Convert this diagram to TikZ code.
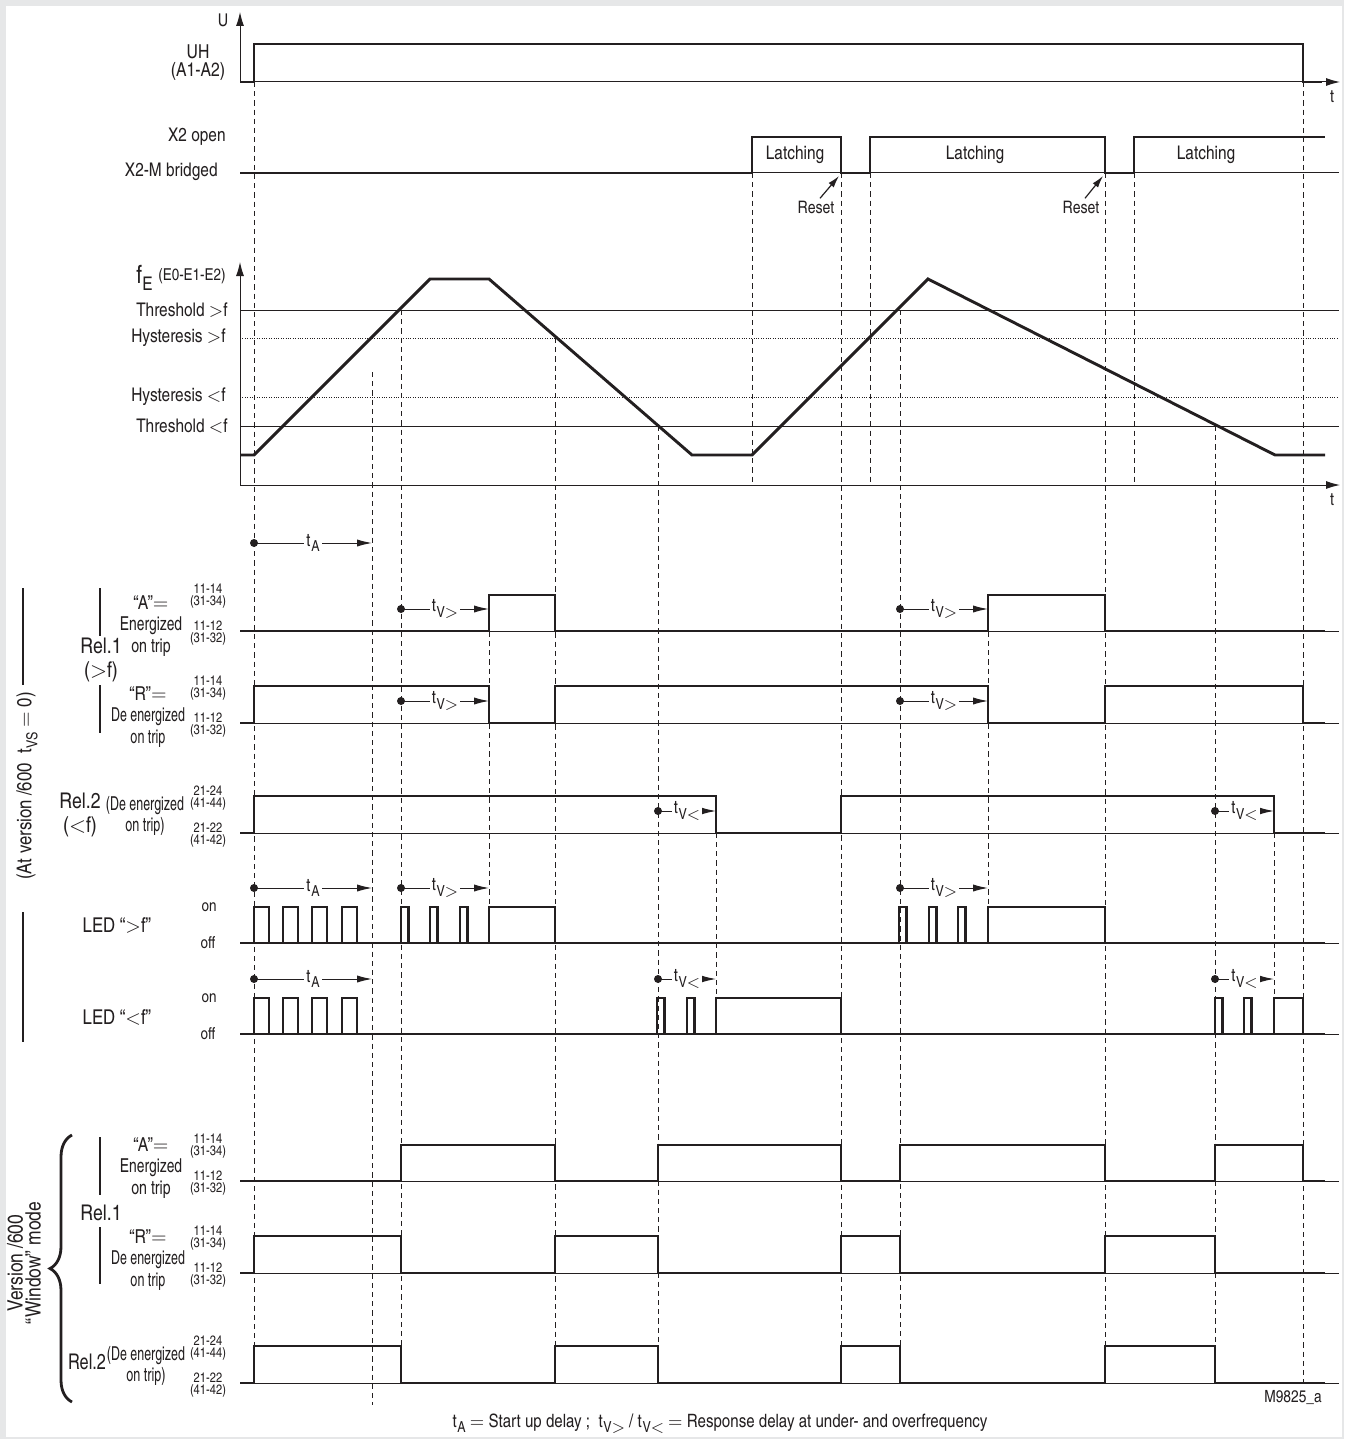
\documentclass[tikz,border=0pt]{standalone}
\usepackage{fontspec}
\setmainfont{TeX Gyre Heros Cn}
\usetikzlibrary{arrows.meta,decorations.pathreplacing}
\definecolor{framegray}{HTML}{E6E7E8}
\definecolor{ink}{HTML}{231F20}
\newcommand{\fs}[1]{\fontsize{#1}{#1}\selectfont}
\newcommand{\tsub}[1]{t\kern0.04em\raisebox{-0.55ex}{\fs{7.6}#1}}
\newcommand{\narrow}[2]{\scalebox{#1}[1]{#2}}

\begin{document}
\begin{tikzpicture}[x=0.5pt, y=-0.5pt, line join=miter,
  sig/.style={line width=1.45pt, ink},
  base/.style={line width=0.5pt, ink},
  guide/.style={line width=0.5pt, dash pattern=on 2.6pt off 2pt, ink},
  hyst/.style={line width=0.5pt, dash pattern=on 0.5pt off 0.7pt, ink},
  axis/.style={line width=0.5pt, ink, -{Latex[length=7pt,width=4pt]}},
  delay/.style={line width=0.5pt, ink, -{Latex[length=7.5pt,width=3.6pt]}},
  dly/.style={fill=white, inner sep=1pt, font=\fs{9}, text=ink},
  lbl/.style={inner sep=0pt, font=\fs{9.4}, text=ink},
  rel/.style={inner sep=0pt, font=\fontsize{9.6}{10.75}\selectfont, align=center, text=ink},
  big/.style={inner sep=0pt, font=\fontsize{10.8}{12}\selectfont, align=center, text=ink},
  pin/.style={inner sep=0pt, font=\fontsize{6.8}{5.8}\selectfont, align=center, text=ink},
  bar/.style={line width=1.2pt, ink}]

% frame
\useasboundingbox (0,0) rectangle (1344,1439);
\fill[framegray] (0,0) rectangle (1344,1439);
\fill[white] (6,6) rectangle (1342,1437);

% dashed guide lines
\foreach \gx/\gt/\gb in {254/82/1346, 372/372/1405, 401/310/1346, 489/595/907,
    555/338/1346, 658/426/1346, 716/796/998, 752/173/485, 841/173/1346,
    870/173/485, 900/310/1346, 988/595/907, 1105/173/1346, 1134/173/485,
    1215/426/1346, 1274/796/998, 1303/82/1383}
  \draw[guide] (\gx,\gt) -- (\gx,\gb);

% supply voltage
\draw[axis] (240,82) -- (240,12);
\draw[axis] (240,82) -- (1340,82);
\node[lbl, font=\fs{8.8}] (uname) at (223,20) {U};
\node[lbl, font=\fs{8.8}] (tone) at (1332,97) {t};
\node[rel, font=\fontsize{9.6}{9}\selectfont] (uh) at (198,63) {UH\\(A1-A2)};
\draw[sig] (240,82) -- (254,82) |- (1303,44) |- (1322,82);

% X2 input
\node[lbl, anchor=east] (xopen) at (226,137) {X2 open};
\node[lbl, anchor=east] (xbridge) at (218,172) {X2-M bridged};
\draw[base] (240,173) -- (1339,173);
\draw[sig] (240,173) -- (752,173) |- (841,137) |- (870,173) |- (1105,137) |- (1134,173) |- (1325,137);
\node[lbl] (latch1) at (795,155) {Latching};
\node[lbl] (latch2) at (975,155) {Latching};
\node[lbl] (latch3) at (1206,155) {Latching};
\node[lbl, font=\fs{8.6}] (reset1) at (816,207) {Reset};
\node[lbl, font=\fs{8.6}] (reset2) at (1081,207) {Reset};
\coordinate (rst1) at (839,176);
\coordinate (rst2) at (1103,176);
\draw[line width=0.6pt, ink, -{Latex[length=6pt,width=3.4pt]}] ([xshift=2pt,yshift=1pt]reset1.north) -- (rst1);
\draw[line width=0.6pt, ink, -{Latex[length=6pt,width=3.4pt]}] ([xshift=2pt,yshift=1pt]reset2.north) -- (rst2);

% frequency
\draw[axis] (240,485) -- (240,262);
\draw[axis] (240,485) -- (1340,485);
\node[lbl, font=\fs{8.8}] (ttwo) at (1332,500) {t};
\node[lbl, anchor=base east] (fname) at (226,283)
  {{\fs{12.5}f}\kern0.02em\raisebox{-0.75ex}{\fs{9.4}E}\kern0.3em\raisebox{0.3ex}{\fs{8.2}(E0-E1-E2)}};
\node[lbl, anchor=east] (thup) at (228,310) {Threshold\ $>$f};
\node[lbl, anchor=east] (hyup) at (226,338) {Hysteresis\ $>$f};
\node[lbl, anchor=east] (hydn) at (226,397) {Hysteresis\ $<$f};
\node[lbl, anchor=east] (thdn) at (228,426) {Threshold\ $<$f};
\draw[base] (240,310) -- (1339,310);
\draw[base] (240,426) -- (1339,426);
\draw[hyst] (240,338) -- (1339,338);
\draw[hyst] (240,397) -- (1339,397);
\draw[sig] (240,455) -- (254,455) -- (430,279) -- (489,279) -- (692,455) -- (752,455)
  -- (928,279) -- (1275,455) -- (1325,455);

% delay arrows
\foreach \da/\db/\dy/\dt in {254/372/543/A, 401/489/609/V$>$, 900/988/609/V$>$,
    401/489/701/V$>$, 900/988/701/V$>$, 658/716/811/V$<$, 1215/1274/811/V$<$,
    254/372/888/A, 401/489/888/V$>$, 900/988/888/V$>$,
    254/372/979/A, 658/716/979/V$<$, 1215/1274/979/V$<$} {
  \coordinate (ds) at (\da,\dy);
  \coordinate (de) at (\db,\dy);
  \fill[ink] (ds) circle (2pt);
  \draw[delay] (ds) -- (de) node[dly, midway] (dl) {\tsub{\dt}};
}

% left group: version /600
\draw[bar] (23,588) -- (23,685);
\draw[bar] (23,912) -- (23,1042);
\node[lbl, font=\fs{10.2}, rotate=90] (atver) at (27,786) {(At version /600\ \ \tsub{VS} $=$ 0)};
\draw[bar] (100,588) -- (100,636);
\draw[bar] (100,685) -- (100,733);
\node[big] (rel1) at (101,660) {Rel.1\\($>$f)};
\node[rel] (aen) at (151,626) {“A”$=$\\\narrow{0.88}{Energized}\\\narrow{0.9}{on trip}};
\node[rel] (rde) at (148,717) {“R”$=$\\\narrow{0.79}{De energized}\\\narrow{0.8}{on trip}};
\node[big] (rel2) at (80,815) {Rel.2\\($<$f)};
\node[rel] (rel2de) at (145,816) {\narrow{0.79}{(De energized}\\\narrow{0.8}{on trip)}};

% relay rows
\draw[base] (240,631) -- (1339,631);
\draw[sig] (240,631) -- (489,631) |- (555,595) |- (988,631) |- (1105,595) |- (1325,631);
\draw[base] (240,723) -- (1339,723);
\draw[sig] (240,723) -- (254,723) |- (489,686) |- (555,723) |- (988,686) |- (1105,723) |- (1303,686) |- (1325,723);
\draw[base] (240,833) -- (1339,833);
\draw[sig] (240,833) -- (254,833) |- (716,796) |- (841,833) |- (1274,796) |- (1325,833);

% LED rows
\node[lbl, font=\fs{10.2}] (ledup) at (117,925) {LED “$>$f”};
\node[lbl, font=\fs{10.2}] (leddn) at (117,1017) {LED “$<$f”};
\node[lbl, font=\fs{8.2}] (onup) at (209,907) {on};
\node[lbl, font=\fs{8.2}] (offup) at (208,943) {off};
\node[lbl, font=\fs{8.2}] (ondn) at (209,998) {on};
\node[lbl, font=\fs{8.2}] (offdn) at (208,1034) {off};
\draw[base] (240,943) -- (1339,943);
\draw[sig] (240,943) -- (1325,943);
\foreach \pa in {254,283,312,342}
  \draw[sig] (\pa,943) -- (\pa,907) -- (\pa+15,907) -- (\pa+15,943);
\foreach \pa in {401,430,460,899,929,958}
  \draw[sig] (\pa,943) -- (\pa,907) -- (\pa+7.5,907) -- (\pa+7.5,943);
\draw[sig] (489,943) |- (555,907) -- (555,943);
\draw[sig] (988,943) |- (1105,907) -- (1105,943);
\draw[base] (240,1034) -- (1339,1034);
\draw[sig] (240,1034) -- (1325,1034);
\foreach \pa in {254,283,312,342}
  \draw[sig] (\pa,1034) -- (\pa,998) -- (\pa+15,998) -- (\pa+15,1034);
\foreach \pa in {657,687,1215,1244}
  \draw[sig] (\pa,1034) -- (\pa,998) -- (\pa+7.5,998) -- (\pa+7.5,1034);
\draw[sig] (716,1034) |- (841,998) -- (841,1034);
\draw[sig] (1274,1034) |- (1303,998) -- (1303,1034);

% window mode group
\draw[decorate, decoration={brace, amplitude=11pt}, line width=1.4pt, ink] (72,1402) -- (72,1135);
\node[lbl, font=\fontsize{10.6}{9}\selectfont, align=center, rotate=90] (winmode) at (24,1263) {Version /600\\“Window” mode};
\draw[bar] (100,1137) -- (100,1195);
\draw[bar] (100,1227) -- (100,1284);
\node[big] (wrel1) at (101,1213) {Rel.1};
\node[rel] (waen) at (151,1168) {“A”$=$\\\narrow{0.88}{Energized}\\\narrow{0.9}{on trip}};
\node[rel] (wrde) at (148,1260) {“R”$=$\\\narrow{0.79}{De energized}\\\narrow{0.8}{on trip}};
\node[big] (wrel2) at (87,1362) {\narrow{0.92}{Rel.2}};
\node[rel] (wrel2de) at (146,1366) {\narrow{0.79}{(De energized}\\\narrow{0.8}{on trip)}};
\draw[base] (240,1181) -- (1339,1181);
\draw[sig] (240,1181) -- (401,1181) |- (555,1145) |- (658,1181) |- (841,1145) |- (900,1181) |- (1105,1145) |- (1215,1181) |- (1303,1145) |- (1325,1181);
\draw[base] (240,1273) -- (1339,1273);
\draw[sig] (240,1273) -- (254,1273) |- (401,1236) |- (555,1273) |- (658,1236) |- (841,1273) |- (900,1236) |- (1105,1273) |- (1215,1236) |- (1325,1273);
\draw[base] (240,1383) -- (1339,1383);
\draw[sig] (240,1383) -- (254,1383) |- (401,1346) |- (555,1383) |- (658,1346) |- (841,1383) |- (900,1346) |- (1105,1383) |- (1215,1346) |- (1325,1383);

% contact numbers
\foreach \py/\pt/\pb [count=\pi] in {596/{11-14}/{(31-34)}, 633/{11-12}/{(31-32)},
    688/{11-14}/{(31-34)}, 725/{11-12}/{(31-32)}, 798/{21-24}/{(41-44)}, 835/{21-22}/{(41-42)},
    1146/{11-14}/{(31-34)}, 1183/{11-12}/{(31-32)}, 1238/{11-14}/{(31-34)}, 1275/{11-12}/{(31-32)},
    1348/{21-24}/{(41-44)}, 1385/{21-22}/{(41-42)}}
  \node[pin] (pin\pi) at (208,\py) {\pt\\\pb};

% footer
\node[lbl, font=\fs{8.4}] (code) at (1293,1398) {M9825\_a};
\node[lbl, font=\fs{9.2}] (caption) at (720,1424)
  {\tsub{A} $=$ Start up delay ;\ \ \tsub{V$>$} / \tsub{V$<$} $=$ Response delay at under- and overfrequency};

\end{tikzpicture}
\end{document}
